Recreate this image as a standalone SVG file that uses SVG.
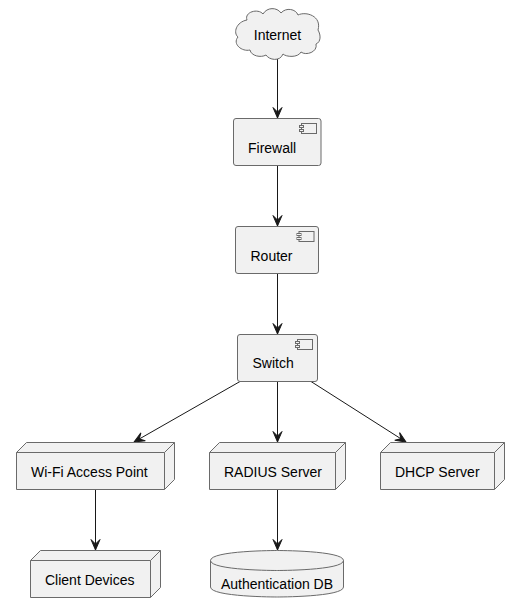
<svg xmlns="http://www.w3.org/2000/svg" width="520" height="613" viewBox="0 0 520 613">
<style>
.s{fill:#F1F1F1;stroke:#6a6a6a;stroke-width:1}
.l{fill:none;stroke:#6a6a6a;stroke-width:1}
.c{fill:none;stroke:#181818;stroke-width:1}
.t{font-family:"Liberation Sans",Arial,sans-serif;font-size:14px;fill:#000}
</style>
<defs>
<marker id="a" markerUnits="userSpaceOnUse" markerWidth="14" markerHeight="14" refX="12" refY="7" orient="auto" viewBox="0 0 14 14">
<path d="M12 7L1.500 2.500L6 7L1.500 11.500Z" fill="#181818" stroke="#181818"/>
</marker>
<g id="ci"><rect x="-15" y="0" width="15" height="10" class="s"/><rect x="-17" y="2" width="4" height="2" class="s"/><rect x="-17" y="6" width="4" height="2" class="s"/></g>
</defs>
<rect width="520" height="613" fill="#fff"/>
<g id="connectors">
<path class="c" marker-end="url(#a)" d="M277.500 59V118"/>
<path class="c" marker-end="url(#a)" d="M277.500 166V226"/>
<path class="c" marker-end="url(#a)" d="M277.500 273V334"/>
<path class="c" marker-end="url(#a)" d="M240 381.500L134 442"/>
<path class="c" marker-end="url(#a)" d="M277.500 382V442"/>
<path class="c" marker-end="url(#a)" d="M311 381.500L406 442"/>
<path class="c" marker-end="url(#a)" d="M95.500 490V550"/>
<path class="c" marker-end="url(#a)" d="M277.500 490V550"/>
</g>
<g id="internet">
<path class="s" d="M247 20C244 12 258 8 263 14C267 7 277 7 281 13C286 7 296 9 298 15C306 11 322 16 318 30C321 35 321 42 316 44C318 52 306 56 301 52C298 58 286 57 283 54C280 62 269 60 266 55C261 58 251 56 250 50C242 52 232 44 238 37C233 33 236 22 247 20Z"/>
<text class="t" x="277.500" y="40" text-anchor="middle">Internet</text>
</g>
<g id="firewall">
<rect class="s" x="233.500" y="118.500" width="87.500" height="47" rx="2.500"/>
<use href="#ci" x="316.500" y="123.500"/>
<text class="t" x="248" y="153">Firewall</text>
</g>
<g id="router">
<rect class="s" x="235.500" y="226.500" width="83" height="47" rx="2.500"/>
<use href="#ci" x="314" y="231.500"/>
<text class="t" x="250.500" y="261">Router</text>
</g>
<g id="switch">
<rect class="s" x="237.500" y="334.500" width="80" height="47" rx="2.500"/>
<use href="#ci" x="312.500" y="339.500"/>
<text class="t" x="252.500" y="368">Switch</text>
</g>
<g id="wifi">
<path class="s" d="M16.500 452.500L26.500 442.500H174.500V479.500L164.500 489.500H16.500Z"/>
<path class="l" d="M16.500 452.500H164.500L174.500 442.500M164.500 452.500V489.500"/>
<text class="t" x="31" y="477">Wi-Fi Access Point</text>
</g>
<g id="radius">
<path class="s" d="M209.500 452.500L219.500 442.500H345.500V479.500L335.500 489.500H209.500Z"/>
<path class="l" d="M209.500 452.500H335.500L345.500 442.500M335.500 452.500V489.500"/>
<text class="t" x="224" y="477">RADIUS Server</text>
</g>
<g id="dhcp">
<path class="s" d="M380.500 452.500L390.500 442.500H504.500V479.500L494.500 489.500H380.500Z"/>
<path class="l" d="M380.500 452.500H494.500L504.500 442.500M494.500 452.500V489.500"/>
<text class="t" x="395" y="477">DHCP Server</text>
</g>
<g id="client">
<path class="s" d="M30.500 560.500L40.500 550.500H160.500V587.500L150.500 597.500H30.500Z"/>
<path class="l" d="M30.500 560.500H150.500L160.500 550.500M150.500 560.500V597.500"/>
<text class="t" x="45" y="585">Client Devices</text>
</g>
<g id="authdb">
<path class="s" d="M210.500 560.500C210.500 550.500 277 550.500 277 550.500C277 550.500 343.500 550.500 343.500 560.500V587C343.500 597 277 597 277 597C277 597 210.500 597 210.500 587Z"/>
<path class="l" d="M210.500 560.500C210.500 570.500 277 570.500 277 570.500C277 570.500 343.500 570.500 343.500 560.500"/>
<text class="t" x="221" y="589">Authentication DB</text>
</g>
</svg>
